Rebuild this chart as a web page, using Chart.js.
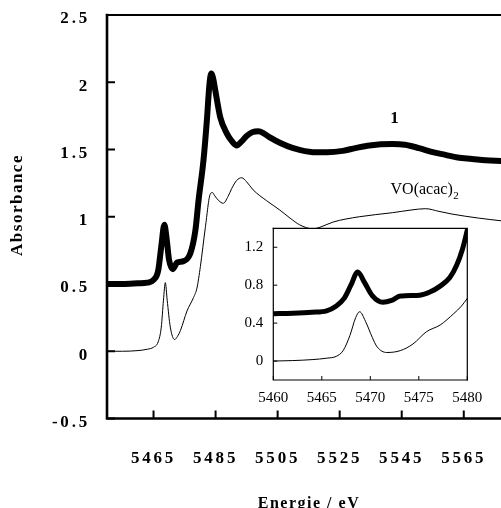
<!DOCTYPE html>
<html><head><meta charset="utf-8">
<script src="https://cdn.jsdelivr.net/npm/chart.js@4"></script>
<style>
html,body{margin:0;padding:0;background:#fff;overflow:hidden;}
#wrap{position:relative;width:501px;height:508px;background:#fff;}
#main{position:absolute;left:0;top:0;}
#inset{position:absolute;left:225px;top:218px;}
</style></head><body>
<div id="wrap"><canvas id="main" width="501" height="508"></canvas><canvas id="inset" width="275" height="200"></canvas></div>
<script>
// ---- data ----
const seriesNames = ["1", "VO(acac)2"];

const energy1 = [5450,5455,5460,5463,5465,5466.5,5467.5,5468.5,5469.3,5470,5471.2,5472.6,5474.7,5476.9,5478.5,5479.5,5481.1,5482.2,5483,5483.6,5484.3,5484.9,5486.5,5488.6,5490.3,5491.8,5493.4,5495,5497,5498.8,5500.5,5502.5,5505.7,5510,5516.4,5521,5526,5530,5534.6,5542,5546,5550.6,5555,5559.1,5563,5567.7,5572,5577];
const abs1 =    [0.5,0.5,0.505,0.51,0.53,0.6,0.78,0.94,0.82,0.68,0.61,0.66,0.67,0.73,0.90,1.12,1.42,1.72,1.98,2.065,2.02,1.94,1.74,1.62,1.56,1.53,1.56,1.60,1.63,1.635,1.62,1.59,1.55,1.51,1.48,1.48,1.49,1.51,1.53,1.54,1.535,1.51,1.48,1.46,1.44,1.43,1.42,1.415];

const energyVO = [5450,5455,5460,5463,5465,5466.5,5467.5,5468.2,5468.8,5469.4,5470.4,5471.8,5472.7,5473.7,5475.8,5477.9,5479,5480.1,5481.7,5483.3,5484,5484.6,5486,5487.5,5489,5490.2,5491.8,5493.4,5495,5497.1,5501.4,5505.7,5509,5512.1,5516.4,5519,5522.8,5531.3,5542,5548,5552.7,5557,5561.2,5569.8,5577];
const absVO =    [0,0,0.005,0.015,0.03,0.07,0.18,0.38,0.51,0.38,0.18,0.087,0.11,0.156,0.30,0.40,0.47,0.63,0.92,1.17,1.18,1.16,1.12,1.10,1.15,1.21,1.27,1.29,1.26,1.20,1.12,1.05,0.99,0.94,0.91,0.925,0.96,1.0,1.03,1.05,1.06,1.04,1.02,0.99,0.97];

const insetEnergy1 = [5460,5462,5464,5465.5,5466.5,5467.3,5468,5468.7,5469.4,5470.2,5471.3,5472.2,5473.1,5475.1,5476.2,5477.2,5478.2,5478.9,5479.5,5480];
const insetAbs1 =    [0.5,0.505,0.515,0.53,0.58,0.66,0.8,0.94,0.83,0.69,0.62,0.64,0.685,0.695,0.73,0.79,0.88,1.01,1.18,1.38];

const insetEnergyVO = [5460,5462,5464,5465.5,5466.5,5467.2,5467.9,5468.5,5468.9,5469.5,5470.2,5470.7,5471.7,5473.1,5474.4,5475.8,5477.2,5478.6,5479.4,5480];
const insetAbsVO =    [0,0.005,0.015,0.03,0.05,0.11,0.27,0.46,0.52,0.42,0.25,0.15,0.09,0.11,0.18,0.31,0.38,0.5,0.58,0.66];

const xTicks = [5465,5485,5505,5525,5545,5565];
const yTicks = [-0.5,0,0.5,1,1.5,2,2.5];
const yTickLabels = ["-0.5","0","0.5","1","1.5","2","2.5"];
const insetXTicks = [5460,5465,5470,5475,5480];
const insetYTicks = [0,0.4,0.8,1.2];
const insetYTickLabels = ["0","0.4","0.8","1.2"];
const xTitle = "Energie / eV";
const yTitle = "Absorbance";

// ---- helpers ----
const serif = "'Liberation Serif','Times New Roman',serif";
function pts(xs, ys){ return xs.map((x,i)=>({x:x, y:ys[i]})); }

const framePlugin = {
  id:'frame',
  beforeDraw(chart, args, o){
    const ctx = chart.ctx, a = chart.chartArea;
    if (o.fillArea){ ctx.save(); ctx.fillStyle='#fff'; ctx.fillRect(a.left,a.top,a.right-a.left,a.bottom-a.top); ctx.restore(); }
    ctx.letterSpacing = o.spacing || '0px';
  },
  afterDraw(chart, args, o){
    const ctx = chart.ctx, a = chart.chartArea, xs = chart.scales.x, ys = chart.scales.y;
    ctx.save();
    ctx.letterSpacing = '0px';
    ctx.strokeStyle = '#000'; ctx.lineCap = 'square';
    ctx.lineWidth = o.axisWidth;
    ctx.beginPath(); ctx.moveTo(a.left,a.top); ctx.lineTo(a.left,a.bottom); ctx.lineTo(a.right,a.bottom); ctx.stroke();
    ctx.lineWidth = o.topWidth;
    ctx.beginPath(); ctx.moveTo(a.left,a.top); ctx.lineTo(a.right,a.top);
    if (o.rightBorder) ctx.lineTo(a.right,a.bottom);
    ctx.stroke();
    ctx.lineCap = 'butt';
    ctx.lineWidth = o.tickWidth;
    ctx.beginPath();
    ys.ticks.forEach(t=>{ const p = ys.getPixelForValue(t.value); ctx.moveTo(a.left,p); ctx.lineTo(a.left+o.tickLen,p); });
    xs.ticks.forEach(t=>{ const p = xs.getPixelForValue(t.value); ctx.moveTo(p,a.bottom); ctx.lineTo(p,a.bottom-o.tickLen); });
    ctx.stroke();
    if (o.titles){
      ctx.fillStyle = '#000';
      ctx.font = 'bold 16px ' + serif;
      ctx.letterSpacing = '1.5px';
      ctx.textAlign = 'center'; ctx.textBaseline = 'middle';
      ctx.fillText(xTitle, 309, 504);
      ctx.save();
      ctx.translate(18, 205); ctx.rotate(-Math.PI/2);
      ctx.font = 'bold 17px ' + serif;
      ctx.letterSpacing = '1.5px';
      ctx.fillText(yTitle, 0, 0);
      ctx.restore();
      ctx.letterSpacing = '0px';
      // series labels
      ctx.textAlign = 'center'; ctx.textBaseline = 'alphabetic';
      ctx.font = 'bold 17px ' + serif;
      ctx.fillText(seriesNames[0], xs.getPixelForValue(5542.7), ys.getPixelForValue(1.70));
      ctx.textAlign = 'left';
      ctx.font = '16px ' + serif;
      const lx = xs.getPixelForValue(5541.4), ly = ys.getPixelForValue(1.167);
      const main = seriesNames[1].slice(0,-1), sub = seriesNames[1].slice(-1);
      ctx.fillText(main, lx, ly);
      const w = ctx.measureText(main).width;
      ctx.font = '11px ' + serif;
      ctx.fillText(sub, lx + w + 0.5, ly + 5);
    }
    ctx.restore();
    ctx.letterSpacing = '0px';
  }
};

function lineDs(label, data, width){
  return {label:label, data:data, borderColor:'#000', backgroundColor:'#000', borderWidth:width,
          pointRadius:0, fill:false, cubicInterpolationMode:'monotone', borderJoinStyle:'round', borderCapStyle:'round'};
}

new Chart(document.getElementById('main'), {
  type:'line',
  data:{datasets:[ lineDs(seriesNames[0], pts(energy1,abs1), 6), lineDs(seriesNames[1], pts(energyVO,absVO), 1) ]},
  options:{
    responsive:false, animation:false, events:[],
    layout:{padding:{top:15,right:0,left:0,bottom:0}},
    plugins:{legend:{display:false}, tooltip:{enabled:false},
      frame:{spacing:'2.8px', axisWidth:2.6, topWidth:2.2, tickWidth:2, tickLen:8, rightBorder:false, titles:true}},
    scales:{
      x:{type:'linear', min:5450, max:5577,
        grid:{display:false, drawTicks:false}, border:{display:false},
        afterBuildTicks:s=>{ s.ticks = xTicks.map(v=>({value:v})); },
        afterFit:s=>{ s.height = 89.5; s.paddingLeft = 0; s.paddingRight = 0; },
        ticks:{padding:30, autoSkip:false, maxRotation:0, color:'#000',
          font:{family:serif, size:17, weight:'bold'}, callback:(v,i)=>String(xTicks[i])}},
      y:{type:'linear', min:-0.5, max:2.5,
        grid:{display:false, drawTicks:false}, border:{display:false},
        afterBuildTicks:s=>{ s.ticks = yTicks.map(v=>({value:v})); },
        afterFit:s=>{ s.width = 107; s.paddingTop = 0; s.paddingBottom = 0; },
        ticks:{padding:17, labelOffset:4, autoSkip:false, color:'#000',
          font:{family:serif, size:17, weight:'bold'}, callback:(v,i)=>yTickLabels[i]}}
    }
  },
  plugins:[framePlugin]
});

new Chart(document.getElementById('inset'), {
  type:'line',
  data:{datasets:[ lineDs(seriesNames[0], pts(insetEnergy1,insetAbs1), 5), lineDs(seriesNames[1], pts(insetEnergyVO,insetAbsVO), 1) ]},
  options:{
    responsive:false, animation:false, events:[],
    layout:{padding:{top:10.3,right:32.7,left:0,bottom:0}},
    plugins:{legend:{display:false}, tooltip:{enabled:false},
      frame:{spacing:'0px', fillArea:true, axisWidth:1.2, topWidth:1.2, tickWidth:1, tickLen:4, rightBorder:true, titles:false}},
    scales:{
      x:{type:'linear', min:5460, max:5480,
        grid:{display:false, drawTicks:false}, border:{display:false},
        afterBuildTicks:s=>{ s.ticks = insetXTicks.map(v=>({value:v})); },
        afterFit:s=>{ s.height = 38; s.paddingLeft = 0; s.paddingRight = 0; },
        ticks:{padding:9, autoSkip:false, maxRotation:0, color:'#000',
          font:{family:serif, size:15}, callback:(v,i)=>String(insetXTicks[i])}},
      y:{type:'linear', min:-0.2, max:1.4,
        grid:{display:false, drawTicks:false}, border:{display:false},
        afterBuildTicks:s=>{ s.ticks = insetYTicks.map(v=>({value:v})); },
        afterFit:s=>{ s.width = 48.3; s.paddingTop = 0; s.paddingBottom = 0; },
        ticks:{padding:10, autoSkip:false, color:'#000',
          font:{family:serif, size:15}, callback:(v,i)=>insetYTickLabels[i]}}
    }
  },
  plugins:[framePlugin]
});
</script>
</body></html>
